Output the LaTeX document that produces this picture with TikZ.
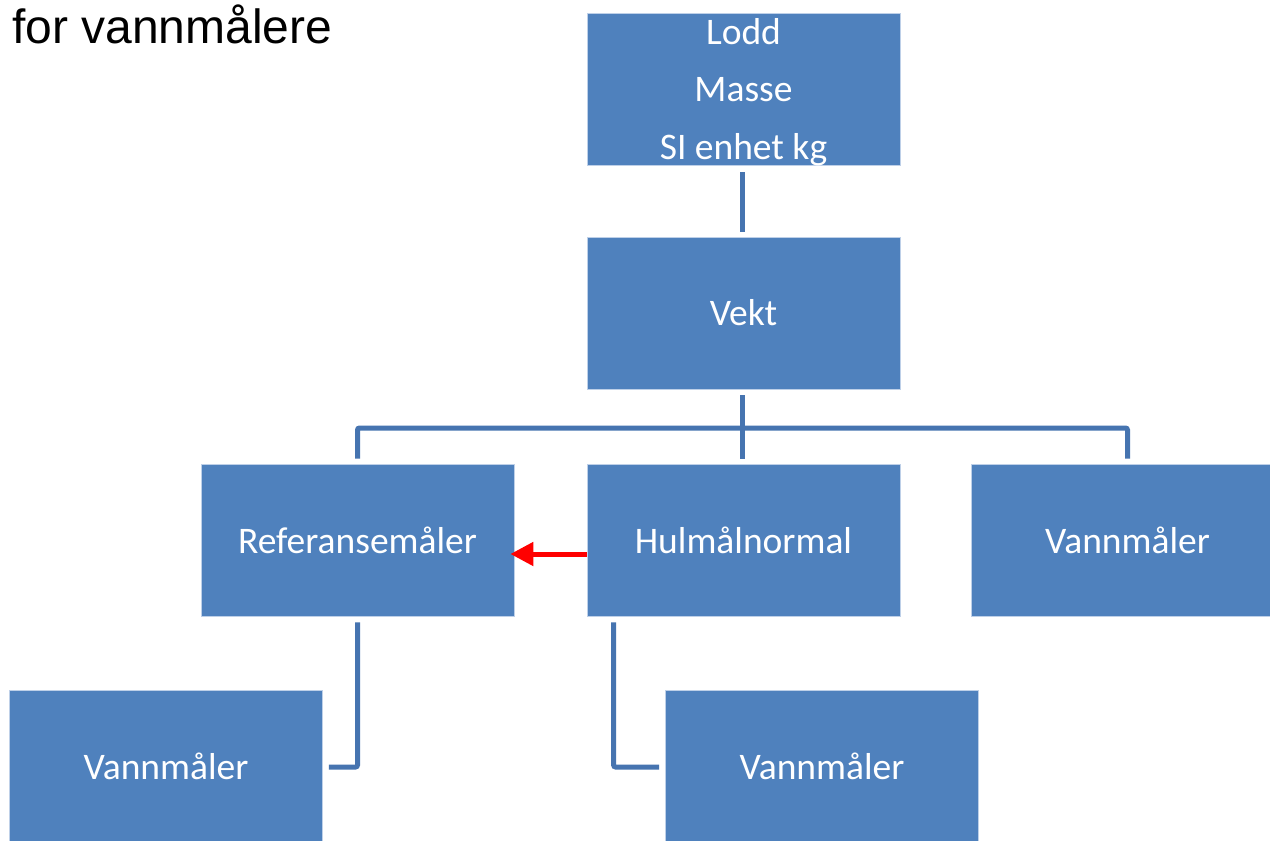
\documentclass[tikz,border=0pt]{standalone}
\usepackage{fontspec}
\setmainfont{Carlito}
\newfontfamily\titlefont{Liberation Sans}
\usetikzlibrary{arrows.meta}
\definecolor{boxblue}{RGB}{79,129,189}
\definecolor{boxedge}{RGB}{190,208,232}
\definecolor{connblue}{RGB}{70,116,176}
\definecolor{arrowred}{RGB}{255,0,0}
\tikzset{
  box/.style={rectangle, fill=boxblue, draw=boxedge, line width=0.8pt,
    minimum width=313pt, minimum height=152pt, inner sep=0pt,
    text=white, align=center, font=\fontsize{37.5}{57.5}\selectfont},
  conn/.style={draw=connblue, line width=5pt, rounded corners=2pt},
  redarrow/.style={draw=arrowred, line width=5pt, -{Triangle[length=23pt,width=23pt]}}
}
\begin{document}
\begin{tikzpicture}[x=1pt,y=-1pt]
\useasboundingbox (0,0) rectangle (1270,841);
\clip (0,0) rectangle (1270,841);
\fill[white] (0,0) rectangle (1270,841);
\node[anchor=base west, inner sep=0pt, font=\titlefont\fontsize{48}{52}\selectfont] (title) at (12,43) {for vannmålere};
\node[box] (top) at (743.5,89) {\smash{Lodd}\rule{0pt}{25pt}\\Masse\\\smash{SI enhet kg}};
\node[box] (vekt) at (743.5,313) {Vekt};
\node[box] (ref) at (357.5,540) {Referansemåler};
\node[box] (hul) at (743.5,540) {Hulmålnormal};
\node[box] (vr) at (1127.5,540) {Vannmåler};
\node[box] (vl) at (166,766) {Vannmåler};
\node[box] (vbr) at (822,766) {Vannmåler};
\coordinate (bus) at (742,428);
\draw[conn] ([xshift=-1.5pt,yshift=-7pt]top.south) -- ([xshift=-1.5pt,yshift=5pt]vekt.north);
\draw[conn] ([xshift=-1.5pt,yshift=-6pt]vekt.south) -- ([xshift=-1.5pt,yshift=5pt]hul.north);
\draw[conn] ([yshift=5pt]ref.north) |- (bus) -| ([yshift=5pt]vr.north);
\draw[conn] ([yshift=-6pt]ref.south) |- ([xshift=6pt,yshift=-1pt]vl.east);
\draw[conn] ([xshift=27pt,yshift=-6pt]hul.south west) |- ([xshift=-6pt,yshift=-1pt]vbr.west);
\draw[redarrow] ([yshift=-14pt]hul.west) -- ([xshift=-4pt,yshift=-14pt]ref.east);
\end{tikzpicture}
\end{document}
